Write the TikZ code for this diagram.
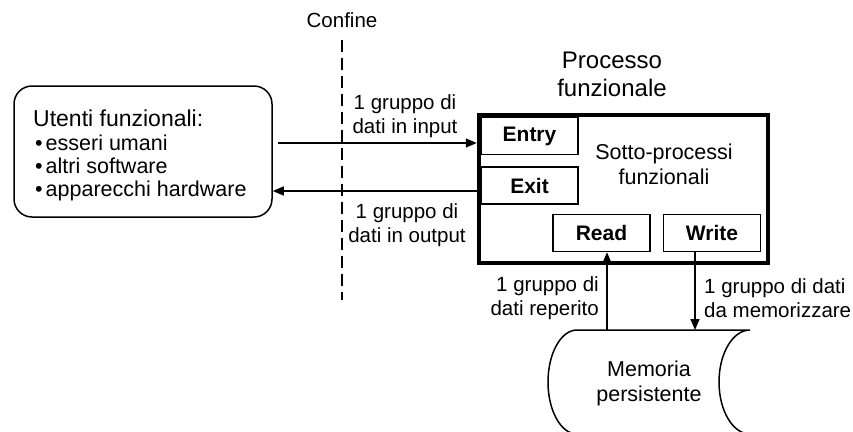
\documentclass[tikz,border=0pt]{standalone}
\usepackage{fontspec}
\setmainfont{Liberation Sans}
\usepackage{tikz}
\usetikzlibrary{shapes}
\usetikzlibrary{arrows.meta}
\usetikzlibrary{positioning}
\tikzset{
  user node/.style={draw,rounded corners=18pt,line width=1.5pt,minimum width=258pt,minimum height=131pt},
  proc node/.style={draw,line width=4.5pt,minimum width=289pt,minimum height=148pt},
  sub node/.style={draw,line width=1.5pt,minimum width=97pt,minimum height=37pt,inner sep=0pt,font=\fontsize{21}{24}\selectfont\bfseries},
  flow label/.style={font=\fontsize{20.5}{23.5}\selectfont,inner sep=0pt},
  bullet/.style={anchor=base west,font=\fontsize{21.5}{25}\selectfont,inner sep=0pt},
  flow/.style={line width=1.5pt}
}
\newcommand{\itm}{•\hspace{3pt}}

\begin{document}
\begin{tikzpicture}[x=1pt,y=-1pt,>={Triangle[length=11pt,width=9pt]}]
  \useasboundingbox (0,0) rectangle (853,431);
  \clip (0,0) rectangle (853,431);

  % boundary line
  \node [flow label] (confine) at (342,20) {Confine};
  \coordinate (bend) at (342,300);
  \draw [line width=1.5pt,dash pattern=on 12pt off 6pt] ([yshift=-12pt]confine.south) -- (bend);

  % functional users
  \node [user node] (utenti) at (143,151.5) {};
  \node [anchor=base west,font=\fontsize{23}{27}\selectfont,inner sep=0pt] (utitle) at (33,126) {Utenti funzionali:};
  \node [bullet] (u1) at (35,150) {\itm esseri umani};
  \node [bullet] (u2) at (35,173) {\itm altri software};
  \node [bullet] (u3) at (35,196) {\itm apparecchi hardware};

  % functional process and its sub-processes
  \node [proc node] (proc) at (623.5,189) {};
  \node [font=\fontsize{24}{28}\selectfont,align=center,inner sep=0pt] (ptitle) at (612,74) {Processo\\funzionale};
  \node [sub node] (entry) at (529.5,136) {Entry};
  \node [sub node,below=11pt of entry] (exit) {Exit};
  \node [sub node] (read) at (601.5,233) {Read};
  \node [sub node,right=12pt of read] (write) {Write};
  \node [flow label,align=center,font=\fontsize{21.5}{25}\selectfont] (sotto) at (664,164) {Sotto-processi\\funzionali};

  % persistent storage
  \coordinate (mtl) at (577,330);
  \draw [line width=1.5pt] (mtl) arc[start angle=90,end angle=270,x radius=29pt,y radius=52pt]
    -- ++(173,0) arc[start angle=270,end angle=90,x radius=31pt,y radius=52pt] -- cycle;
  \node [flow label,align=center,font=\fontsize{21.5}{25}\selectfont] (mem) at (649,383) {Memoria\\persistente};

  % data movements
  \coordinate (in0) at (278,143);
  \coordinate (out0) at (477,191);
  \coordinate (rdm) at (607,330);
  \coordinate (wrm) at (695,330);
  \draw [flow,->] (in0) -- (in0 -| proc.west);
  \draw [flow,->] (out0 -| proc.west) -- (out0 -| utenti.east);
  \draw [flow,->] (rdm) -- (rdm |- read.south);
  \draw [flow,->] (wrm |- write.south) -- (wrm);

  \node [flow label,align=center] (lin) at (405,116) {1 gruppo di\\dati in input};
  \node [flow label,align=center] (lout) at (407,225) {1 gruppo di\\dati in output};
  \node [flow label,align=right,anchor=east] (lrd) at (599,298) {1 gruppo di\\dati reperito};
  \node [flow label,align=left,anchor=west] (lwr) at (704,298) {1 gruppo di dati\\da memorizzare};
\end{tikzpicture}
\end{document}
